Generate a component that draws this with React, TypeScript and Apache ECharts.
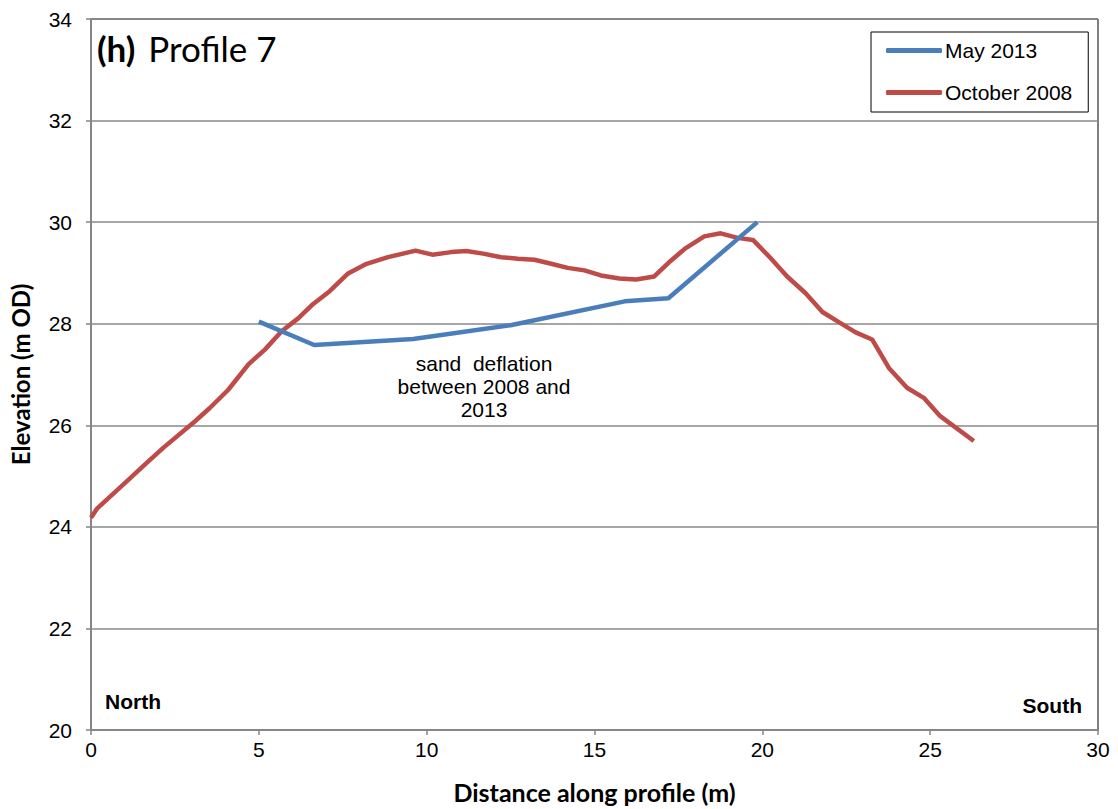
import React, { useEffect, useRef } from "react";
import * as echarts from "echarts";

const dist2008 = [0, 0.18, 1.12, 1.61, 2.16, 3.10, 3.54, 4.09, 4.69, 5.18, 5.68, 6.18, 6.62, 7.11, 7.66, 8.21, 8.85, 9.67, 10.17, 10.73, 11.18, 11.68, 12.22, 12.72, 13.21, 13.71, 14.20, 14.70, 15.19, 15.74, 16.24, 16.78, 17.22, 17.72, 18.27, 18.76, 19.26, 19.72, 20.25, 20.74, 21.29, 21.79, 22.28, 22.78, 23.27, 23.77, 24.31, 24.81, 25.30, 26.30];
const elev2008 = [24.18, 24.36, 24.93, 25.23, 25.56, 26.08, 26.34, 26.70, 27.20, 27.49, 27.85, 28.11, 28.39, 28.64, 28.99, 29.18, 29.31, 29.44, 29.36, 29.41, 29.43, 29.38, 29.31, 29.28, 29.26, 29.18, 29.10, 29.05, 28.95, 28.89, 28.87, 28.93, 29.21, 29.49, 29.72, 29.78, 29.69, 29.65, 29.29, 28.93, 28.60, 28.23, 28.03, 27.83, 27.69, 27.13, 26.74, 26.54, 26.18, 25.69];

const dist2013 = [5.0, 6.65, 9.6, 12.5, 15.9, 17.2, 19.85];
const elev2013 = [28.04, 27.58, 27.70, 27.97, 28.44, 28.50, 30.0];

const seriesNames = ["May 2013", "October 2008"];
const annotation = "sand  deflation\nbetween 2008 and\n2013";

const zip = (xs: number[], ys: number[]) => xs.map((x, i) => [x, ys[i]]);

export default function App() {
  const ref = useRef<HTMLDivElement>(null);
  useEffect(() => {
    const chart = echarts.init(ref.current!, null, { renderer: "svg" });
    const font = "'Liberation Sans', Arial, sans-serif";
    chart.setOption({
      animation: false,
      backgroundColor: "#fff",
      grid: {
        left: 89, top: 19, right: 20, bottom: 78,
        show: true, borderColor: "#000", borderWidth: 1, backgroundColor: "transparent",
      },
      xAxis: {
        type: "value", min: 0, max: 30, interval: 5,
        name: "Distance along profile (m)", nameLocation: "middle", nameGap: 49,
        nameTextStyle: { fontFamily: "Lato", fontWeight: "bold", fontSize: 25, color: "#000" },
        axisLine: { lineStyle: { color: "#868686", width: 2 } },
        axisTick: { show: true, length: 5, lineStyle: { color: "#868686", width: 1.5 } },
        axisLabel: { fontFamily: font, fontSize: 21, color: "#000", margin: 9 },
        splitLine: { show: false },
      },
      yAxis: {
        type: "value", min: 20, max: 34, interval: 2,
        name: "Elevation (m OD)", nameLocation: "middle", nameGap: 59,
        nameTextStyle: { fontFamily: "Lato", fontWeight: "bold", fontSize: 24, color: "#000" },
        axisLine: { show: true, lineStyle: { color: "#868686", width: 2 } },
        axisTick: { show: true, length: 5, lineStyle: { color: "#868686", width: 1.5 } },
        axisLabel: { fontFamily: font, fontSize: 21, color: "#000", margin: 19 },
        splitLine: { show: true, lineStyle: { color: "#888", width: 1.5 } },
      },
      legend: {
        orient: "vertical", left: 871, top: 32,
        data: seriesNames,
        backgroundColor: "#fff",
        borderColor: "#000", borderWidth: 1,
        padding: [8, 16, 9, 15],
        itemWidth: 56, itemHeight: 5, itemGap: 21,
        icon: "roundRect",
        textStyle: { fontFamily: font, fontSize: 21, color: "#000", padding: [0, 0, 0, -2] },
      },
      series: [
        {
          name: seriesNames[0], type: "line", data: zip(dist2013, elev2013),
          showSymbol: false, symbol: "none",
          lineStyle: { color: "#4A7EBB", width: 4.5 }, itemStyle: { color: "#4A7EBB" }, z: 3,
        },
        {
          name: seriesNames[1], type: "line", data: zip(dist2008, elev2008),
          showSymbol: false, symbol: "none",
          lineStyle: { color: "#BE4B48", width: 4.5 }, itemStyle: { color: "#BE4B48" }, z: 2,
        },
      ],
      graphic: [
        {
          type: "text", left: 97, top: 30,
          style: {
            text: "{b|(h)}{n|Profile 7}",
            rich: {
              b: { fontFamily: "Lato", fontWeight: "bold", fontSize: 35, fill: "#000" },
              n: { fontFamily: "Lato", fontSize: 35, fill: "#000", padding: [0, 0, 0, 13] },
            },
          },
        },
        {
          type: "text", x: 484, y: 352,
          style: {
            text: annotation, fontFamily: font, fontSize: 21, lineHeight: 23,
            fill: "#000", align: "center", verticalAlign: "top",
          },
        },
        {
          type: "text", x: 105, y: 691,
          style: { text: "North", fontFamily: font, fontSize: 21, fontWeight: "bold", fill: "#000" },
        },
        {
          type: "text", x: 1082, y: 695,
          style: { text: "South", fontFamily: font, fontSize: 21, fontWeight: "bold", fill: "#000", align: "right" },
        },
      ],
    });
    return () => chart.dispose();
  }, []);
  return <div ref={ref} style={{ width: 1118, height: 809, position: "absolute", left: 0, top: 0 }} />;
}
